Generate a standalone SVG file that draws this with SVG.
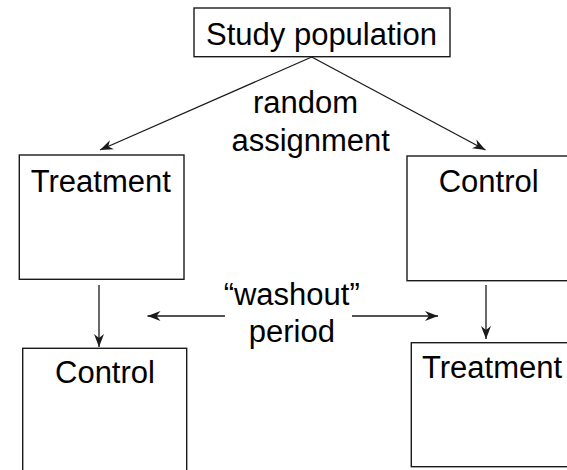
<svg xmlns="http://www.w3.org/2000/svg" width="567" height="470" viewBox="0 0 567 470">
  <style>
    .box { fill: #ffffff; stroke: #1a1a1a; stroke-width: 1.4; }
    .lbl { font-family: "Liberation Sans", Arial, Helvetica, sans-serif; font-size: 31px; fill: #000; }
    .mid { text-anchor: middle; }
    .edge { stroke: #1a1a1a; stroke-width: 1.3; fill: none; marker-end: url(#head); }
  </style>
  <defs>
    <marker id="head" markerUnits="userSpaceOnUse" markerWidth="14" markerHeight="12" viewBox="0 0 14 12" refX="13" refY="6" orient="auto">
      <path d="M0,1 L13,6 L0,11 L4,6 z" fill="#1a1a1a"/>
    </marker>
  </defs>
  <rect width="567" height="470" fill="#ffffff"/>

  <g id="connectors">
    <line class="edge" x1="311.7" y1="57" x2="100" y2="150"/>
    <line class="edge" x1="311.7" y1="57" x2="485.5" y2="150"/>
    <line class="edge" x1="99" y1="285" x2="99" y2="347"/>
    <line class="edge" x1="486" y1="285" x2="486" y2="339"/>
    <line class="edge" x1="225" y1="316" x2="147.5" y2="316"/>
    <line class="edge" x1="352" y1="316" x2="438" y2="316"/>
  </g>

  <g id="study-population">
    <rect class="box" x="194" y="8" width="256" height="48.7"/>
    <text class="lbl mid" x="321.5" y="45">Study population</text>
  </g>

  <g id="random-assignment">
    <text class="lbl mid" x="305.5" y="113.3">random</text>
    <text class="lbl mid" x="310.7" y="150.7">assignment</text>
  </g>

  <g id="treatment-first">
    <rect class="box" x="19.3" y="155" width="164.7" height="124.3"/>
    <text class="lbl" x="30.7" y="191.7">Treatment</text>
  </g>

  <g id="control-first">
    <rect class="box" x="407" y="156" width="165" height="124.7"/>
    <text class="lbl" x="438.7" y="192.3">Control</text>
  </g>

  <g id="washout-period">
    <text class="lbl mid" x="291.7" y="305">“washout”</text>
    <text class="lbl mid" x="291.8" y="342">period</text>
  </g>

  <g id="control-second">
    <rect class="box" x="22.7" y="348.3" width="164" height="130"/>
    <text class="lbl" x="55" y="383.3">Control</text>
  </g>

  <g id="treatment-second">
    <rect class="box" x="411.3" y="342.7" width="165" height="124"/>
    <text class="lbl" x="422" y="378.3">Treatment</text>
  </g>
</svg>
